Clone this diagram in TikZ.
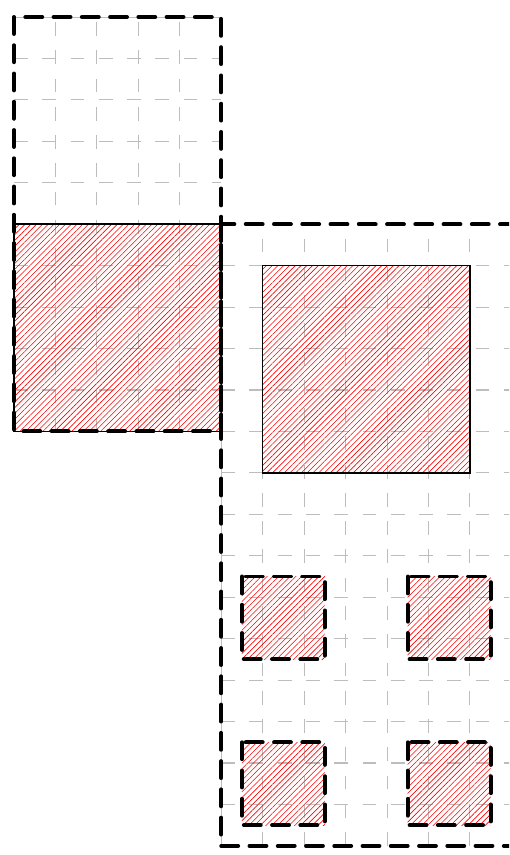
\documentclass[tikz,border=0pt]{standalone}
\usepackage{tikz}
\usetikzlibrary{patterns.meta}
\definecolor{pgrid}{HTML}{BDBDBD}
\definecolor{phatch}{HTML}{FF0000}
\tikzset{
  % light dashed cell grid
  gridln/.style = {pgrid, line width=0.7pt, dash pattern=on 9.5pt off 9.9pt},
  % heavy dashed outline
  frame/.style  = {black, line width=2.7pt, line cap=round, dash pattern=on 11.6pt off 7.8pt},
  hatchfill/.style = {pattern={Lines[angle=45,distance=2.8pt,line width=0.4pt]}, pattern color=phatch},
  hatch/.style  = {hatchfill, draw=black, line width=1pt},
}

\begin{document}
\begin{tikzpicture}[x=1cm,y=-1cm]
\useasboundingbox (-0.338,-0.41) rectangle (11.945,20.22);
\clip (-0.338,-0.41) rectangle (11.945,20.22);
% grids
\draw[gridln] (0,0) grid (5,10);
\draw[gridln] (5,5) grid (13,20);
% hatched areas
\draw[hatch] (0,5) rectangle (5,10);
\draw[hatch] (6,6) rectangle (11,11);
\fill[hatchfill] (5.5,13.5) rectangle (7.5,15.5);
\fill[hatchfill] (9.5,13.5) rectangle (11.5,15.5);
\fill[hatchfill] (5.5,17.5) rectangle (7.5,19.5);
\fill[hatchfill] (9.5,17.5) rectangle (11.5,19.5);
% outlines
\draw[frame] (0,0) rectangle (5,10);
\draw[frame] (5,5) rectangle (13,20);
\draw[frame] (5.5,13.5) rectangle (7.5,15.5);
\draw[frame] (9.5,13.5) rectangle (11.5,15.5);
\draw[frame] (5.5,17.5) rectangle (7.5,19.5);
\draw[frame] (9.5,17.5) rectangle (11.5,19.5);
\end{tikzpicture}
\end{document}
